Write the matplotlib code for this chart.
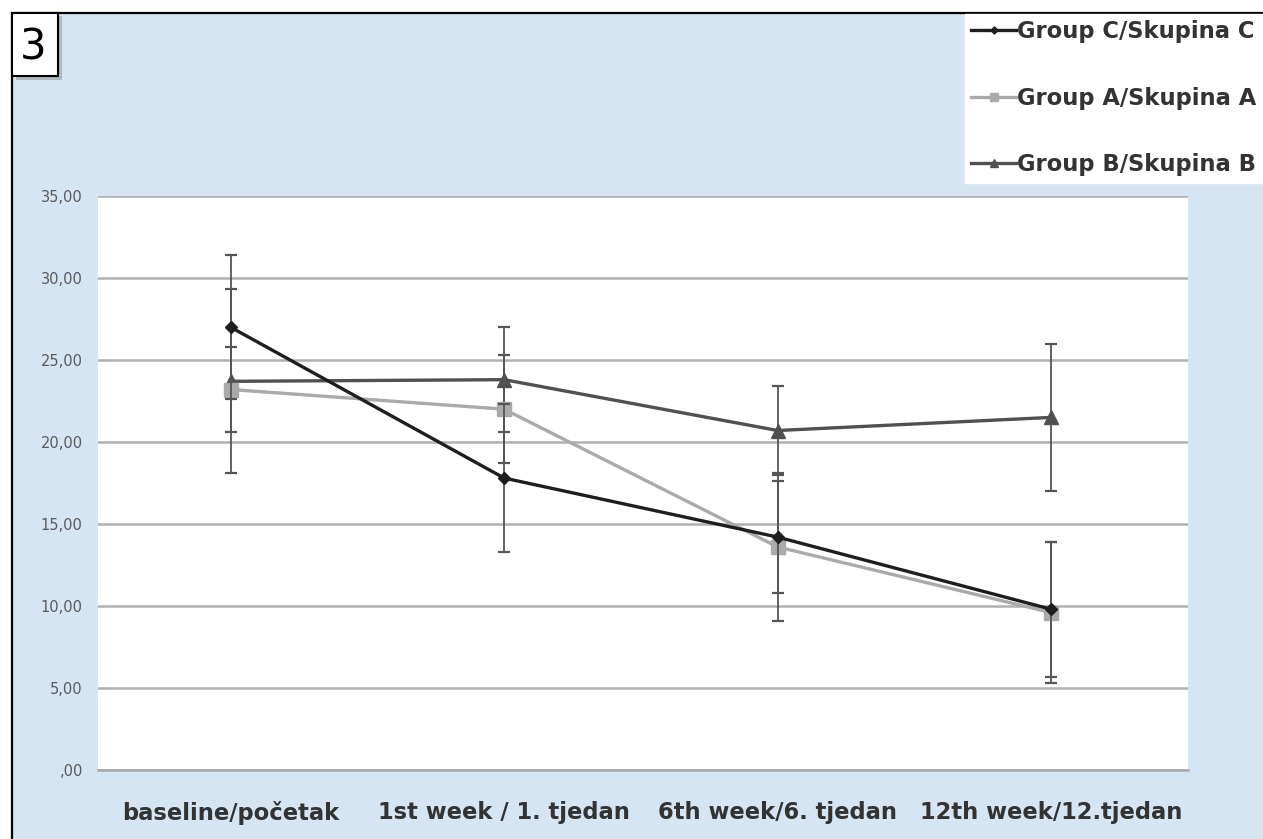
import matplotlib
matplotlib.use("Agg")
import matplotlib.pyplot as plt
from matplotlib.patches import Rectangle
from matplotlib.ticker import FuncFormatter
import numpy as np

categories = ["baseline/početak", "1st week / 1. tjedan", "6th week/6. tjedan", "12th week/12.tjedan"]
series_names = ["Group C/Skupina C", "Group A/Skupina A", "Group B/Skupina B"]
group_c = [27.0, 17.8, 14.2, 9.8]
group_c_err = [4.4, 4.5, 3.4, 4.1]
group_a = [23.2, 22.0, 13.6, 9.6]
group_a_err = [2.6, 3.3, 4.5, 4.3]
group_b = [23.7, 23.8, 20.7, 21.5]
group_b_err = [5.6, 3.2, 2.7, 4.5]
yticks = [0, 5, 10, 15, 20, 25, 30, 35]

W, H = 1263, 839
fig = plt.figure(figsize=(W / 100, H / 100), dpi=100)
fig.patch.set_facecolor("white")

# blue background panel with black border (top/left)
bg = Rectangle((12 / W, -0.02), 1.05, 1 - 13 / H + 0.02, transform=fig.transFigure,
               facecolor="#d5e5f4", edgecolor="black", linewidth=1.6, zorder=-10)
fig.patches.append(bg)

ax = fig.add_axes([98 / W, (H - 770) / H, (1188 - 98) / W, (770 - 196) / H], zorder=1)
ax.set_facecolor("white")
x = np.arange(len(categories))

styles = [
    dict(color="#1e1e1e", marker="D", ms=6, data=group_c, err=group_c_err, z=5),
    dict(color="#aaaaaa", marker="s", ms=10, data=group_a, err=group_a_err, z=4),
    dict(color="#505050", marker="^", ms=10, data=group_b, err=group_b_err, z=3),
]
handles = []
for name, s in zip(series_names, styles):
    ax.errorbar(x, s["data"], yerr=s["err"], fmt="none", ecolor="#555555",
                elinewidth=1.3, capsize=4, capthick=1.6, zorder=s["z"] - 0.5)
    h, = ax.plot(x, s["data"], color=s["color"], marker=s["marker"], ms=s["ms"],
                 lw=2.4, mec=s["color"], mfc=s["color"], zorder=s["z"], label=name)
    handles.append(h)

ax.set_xlim(-0.485, 3.5)
ax.set_ylim(0, 35)
ax.set_yticks(yticks)
ax.yaxis.set_major_formatter(FuncFormatter(lambda v, p: ",00" if v == 0 else f"{v:.2f}".replace(".", ",")))
ax.grid(axis="y", color="#b0b0b0", linewidth=1.8)
ax.set_axisbelow(True)
for sp in ["top", "right", "left"]:
    ax.spines[sp].set_visible(False)
ax.spines["bottom"].set_color("#a8a8a8")
ax.spines["bottom"].set_linewidth(1.8)
ax.set_xticks(x)
ax.set_xticklabels(categories, fontsize=16.3, fontweight="bold", color="#333333",
                   family="DejaVu Sans")
ax.tick_params(axis="x", length=0, pad=22)
ax.tick_params(axis="y", length=0, pad=11, labelsize=10.5, labelcolor="#5a5a5a")

leg = fig.legend(handles=handles, loc="upper right", bbox_to_anchor=(1.0, 1 - 14 / H),
                 frameon=True, fancybox=False, facecolor="white", edgecolor="white",
                 framealpha=1, prop=dict(family="DejaVu Sans", weight="bold", size=16.3),
                 labelspacing=1.92, handlelength=2.0, handletextpad=0.05,
                 borderpad=0.28, borderaxespad=0, markerscale=0.6)
for t in leg.get_texts():
    t.set_color("#333333")

# panel label "3"
shadow = Rectangle((16 / W, 1 - 80 / H), 46 / W, 64 / H, transform=fig.transFigure,
                   facecolor="#9a9a9a", edgecolor="none", alpha=0.6, zorder=2)
box = Rectangle((12 / W, 1 - 76 / H), 46 / W, 63 / H, transform=fig.transFigure,
                facecolor="white", edgecolor="black", linewidth=1.5, zorder=3)
fig.patches.extend([shadow, box])
fig.text(33 / W, 1 - 47 / H, "3", fontsize=30, ha="center", va="center", color="black",
         family="DejaVu Sans", zorder=4)

fig.savefig("out.png", dpi=100, facecolor=fig.get_facecolor())
